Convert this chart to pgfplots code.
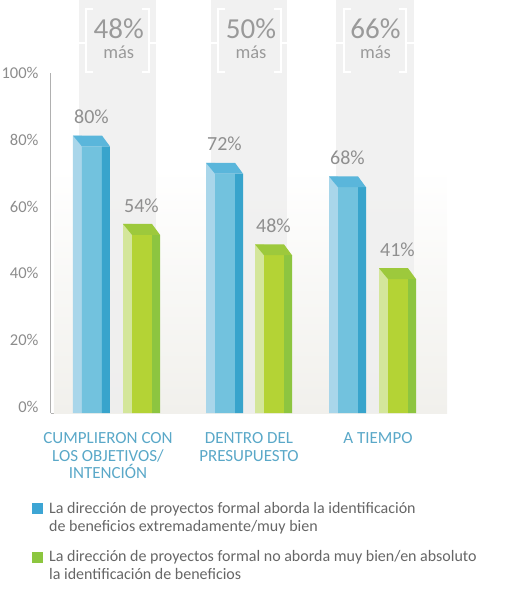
\documentclass[border=0pt]{standalone}
\usepackage{pgfplots}
\pgfplotsset{compat=1.18}
\usepackage{pgfplotstable}
\usepackage{fontspec}
\setmainfont{Carlito}
\definecolor{bl1}{HTML}{A9D6EA}
\definecolor{bl2}{HTML}{72C2DE}
\definecolor{bl3}{HTML}{38A4CC}
\definecolor{blc}{HTML}{5AB6DB}
\definecolor{gr1}{HTML}{D4E69B}
\definecolor{gr2}{HTML}{B4D335}
\definecolor{gr3}{HTML}{8DC540}
\definecolor{grc}{HTML}{9DC93C}
\definecolor{legbl}{HTML}{3DA5D4}
\definecolor{leggr}{HTML}{8CC63F}
\definecolor{axisc}{HTML}{B0B0B0}
\definecolor{tickc}{HTML}{8C8C8C}
\definecolor{valc}{HTML}{8F8F8F}
\definecolor{bigc}{HTML}{9A9A9A}
\definecolor{legc}{HTML}{666666}
\definecolor{catc}{HTML}{5AA8C8}
\definecolor{colc}{HTML}{EEEEEE}
\definecolor{floorc}{HTML}{F1F0EC}

\pgfplotstableread{
L v
73 80
206 72
329 68
}\blueT
\pgfplotstableread{
L v
123 54
255 48
379 41
}\greenT

\begin{document}
\begin{tikzpicture}[x=1pt,y=1pt]
\useasboundingbox (0,0) rectangle (522,-592);
\begin{axis}[
  at={(51pt,-413pt)}, anchor=south west,
  scale only axis, width=396pt, height=340pt,
  xmin=51, xmax=447, ymin=0, ymax=100,
  clip=false,
  axis x line=bottom, axis y line=left,
  axis line style={draw=axisc, line width=1pt, -},
  major tick length=0pt,
  ytick={1.76,21.41,41.06,60.71,80.35,100},
  yticklabels={0\%,20\%,40\%,60\%,80\%,100\%},
  yticklabel style={font=\fontsize{16.5}{18}\selectfont, text=tickc, xshift=-9pt},
  xtick={108,249,378},
  xticklabels={{CUMPLIERON CON\\LOS OBJETIVOS/\\INTENCIÓN},{DENTRO DEL\\PRESUPUESTO},{A TIEMPO}},
  xticklabel style={align=center, font=\fontsize{17}{17.5}\selectfont, text=catc, yshift=-16pt},
  legend cell align=left,
  legend style={at={(axis description cs:-0.0556,-0.25)}, anchor=north west, draw=none, fill=none,
    font=\fontsize{16}{18}\selectfont, text=legc, row sep=14pt,
    cells={align=left}},
  legend image code/.code={\fill[#1] (0pt,3.5pt) rectangle (11pt,14.5pt); \path (15pt,-14.5pt);},
]
% background floor and columns
\fill[top color=white, bottom color=floorc] (axis cs:54,0) rectangle (axis cs:447,72);
\fill[colc, opacity=0.8] (axis cs:79,0) rectangle (axis cs:156,121.5);
\fill[colc, opacity=0.8] (axis cs:211,0) rectangle (axis cs:287,121.5);
\fill[colc, opacity=0.8] (axis cs:336,0) rectangle (axis cs:414,121.5);
% brackets
\draw[white, line width=2pt] (axis cs:93,118.8) -- (axis cs:86,118.8) -- (axis cs:86,100.3) -- (axis cs:93,100.3);
\draw[white, line width=2pt] (axis cs:142,118.8) -- (axis cs:149,118.8) -- (axis cs:149,100.3) -- (axis cs:142,100.3);
\draw[white, line width=2pt] (axis cs:225,118.8) -- (axis cs:218,118.8) -- (axis cs:218,100.3) -- (axis cs:225,100.3);
\draw[white, line width=2pt] (axis cs:274,118.8) -- (axis cs:281,118.8) -- (axis cs:281,100.3) -- (axis cs:274,100.3);
\draw[white, line width=2pt] (axis cs:351,118.8) -- (axis cs:344,118.8) -- (axis cs:344,100.3) -- (axis cs:351,100.3);
\draw[white, line width=2pt] (axis cs:399,118.8) -- (axis cs:406,118.8) -- (axis cs:406,100.3) -- (axis cs:399,100.3);
\draw[white, line width=2pt] (axis cs:79,108.8) -- (axis cs:86,108.8) (axis cs:149,108.8) -- (axis cs:156,108.8);
\draw[white, line width=2pt] (axis cs:211,108.8) -- (axis cs:218,108.8) (axis cs:281,108.8) -- (axis cs:287,108.8);
\draw[white, line width=2pt] (axis cs:336,108.8) -- (axis cs:344,108.8) (axis cs:406,108.8) -- (axis cs:414,108.8);
\node[inner sep=0pt, font=\fontsize{29}{30}\selectfont, text=bigc] at (axis cs:118.7,112.9) {48\%};
\node[inner sep=0pt, font=\fontsize{18.5}{19}\selectfont, text=bigc] at (axis cs:118.7,106.0) {más};
\node[inner sep=0pt, font=\fontsize{29}{30}\selectfont, text=bigc] at (axis cs:251,112.9) {50\%};
\node[inner sep=0pt, font=\fontsize{18.5}{19}\selectfont, text=bigc] at (axis cs:251,106.0) {más};
\node[inner sep=0pt, font=\fontsize{29}{30}\selectfont, text=bigc] at (axis cs:375.5,112.9) {66\%};
\node[inner sep=0pt, font=\fontsize{18.5}{19}\selectfont, text=bigc] at (axis cs:375.5,106.0) {más};

% blue bars
\addplot[ybar, bar width=9, bar shift=0pt, fill=bl1, draw=none, forget plot] table[x expr=\thisrow{L}+4.5, y expr=\thisrow{v}+1.6] {\blueT};
\addplot[ybar, bar width=20, bar shift=0pt, fill=bl2, draw=none, forget plot] table[x expr=\thisrow{L}+19, y expr=\thisrow{v}-1.6] {\blueT};
\addplot[ybar, bar width=8, bar shift=0pt, fill=bl3, draw=none, forget plot] table[x expr=\thisrow{L}+33, y expr=\thisrow{v}-1.6] {\blueT};
\addplot[fill=blc, draw=none, forget plot] coordinates {(73,81.6) (102,81.6) (110,78.4) (82,78.4)};
\addplot[fill=blc, draw=none, forget plot] coordinates {(206,73.6) (235,73.6) (243,70.4) (215,70.4)};
\addplot[fill=blc, draw=none, forget plot] coordinates {(329,69.6) (358,69.6) (366,66.4) (338,66.4)};
% green bars
\addplot[ybar, bar width=9, bar shift=0pt, fill=gr1, draw=none, forget plot] table[x expr=\thisrow{L}+4.5, y expr=\thisrow{v}+1.6] {\greenT};
\addplot[ybar, bar width=20, bar shift=0pt, fill=gr2, draw=none, forget plot] table[x expr=\thisrow{L}+19, y expr=\thisrow{v}-1.6] {\greenT};
\addplot[ybar, bar width=8, bar shift=0pt, fill=gr3, draw=none, forget plot] table[x expr=\thisrow{L}+33, y expr=\thisrow{v}-1.6] {\greenT};
\addplot[fill=grc, draw=none, forget plot] coordinates {(123,55.6) (152,55.6) (160,52.4) (132,52.4)};
\addplot[fill=grc, draw=none, forget plot] coordinates {(255,49.6) (284,49.6) (292,46.4) (264,46.4)};
\addplot[fill=grc, draw=none, forget plot] coordinates {(379,42.6) (408,42.6) (416,39.4) (388,39.4)};
% value labels
\addplot[draw=none, mark=none, forget plot, nodes near coords={\pgfmathprintnumber[assume math mode=true]{\pgfplotspointmeta}\%},
  nodes near coords style={anchor=center, yshift=24pt, font=\fontsize{20}{21}\selectfont, text=valc}]
  table[x expr=\thisrow{L}+18.5, y=v] {\blueT};
\addplot[draw=none, mark=none, forget plot, nodes near coords={\pgfmathprintnumber[assume math mode=true]{\pgfplotspointmeta}\%},
  nodes near coords style={anchor=center, yshift=24pt, font=\fontsize{20}{21}\selectfont, text=valc}]
  table[x expr=\thisrow{L}+18.5, y=v] {\greenT};
% legend
\addlegendimage{fill=legbl, draw=none}
\addlegendentry{La dirección de proyectos formal aborda la identificación\\de beneficios extremadamente/muy bien}
\addlegendimage{fill=leggr, draw=none}
\addlegendentry{La dirección de proyectos formal no aborda muy bien/en absoluto\\la identificación de beneficios}
\end{axis}
\end{tikzpicture}
\end{document}
